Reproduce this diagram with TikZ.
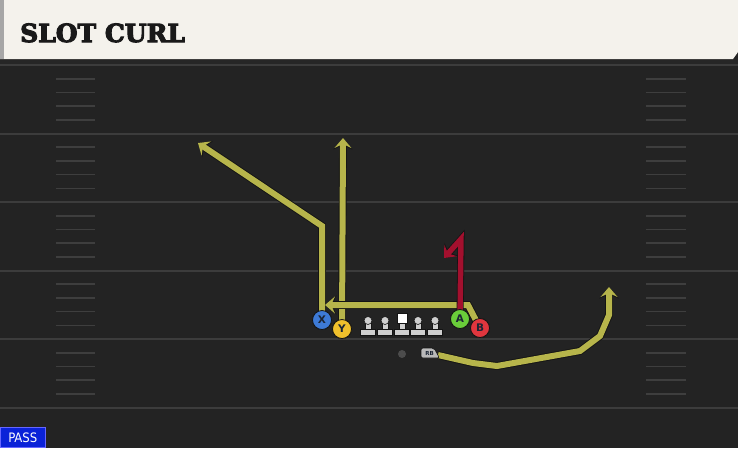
\documentclass[tikz,border=0pt]{standalone}
\usepackage{fontspec}
\setmainfont{DejaVu Sans}
\newfontfamily\titlefont[BoldFeatures={FakeBold=4}]{DejaVu Serif}
\newfontfamily\passfont{DejaVu Sans Condensed}
\usetikzlibrary{arrows.meta}
\definecolor{bgc}{HTML}{232323}
\definecolor{yardc}{HTML}{3C3C3C}
\definecolor{hashc}{HTML}{3E3E3E}
\definecolor{headc}{HTML}{F4F2EC}
\definecolor{routec}{HTML}{B7B54B}
\definecolor{redroute}{HTML}{A3102E}
\definecolor{outc}{HTML}{141414}
\definecolor{xblue}{HTML}{3D7AD6}
\definecolor{yyel}{HTML}{F0C02C}
\definecolor{agreen}{HTML}{6ACD3A}
\definecolor{bred}{HTML}{E0363E}
\definecolor{lettc}{HTML}{1B2535}
\definecolor{linec}{HTML}{CFCFCF}
\definecolor{passc}{HTML}{0A22D8}
\tikzset{
  yard/.style={draw=yardc, line width=2pt},
  hashm/.style={draw=hashc, line width=1.6pt},
  tip/.style={-{Stealth[length=10pt,width=17pt,inset=4pt]}},
  otip/.style={-{Stealth[length=11.5pt,width=19pt,inset=4.5pt]}},
  route/.style={draw=routec, line width=6pt, line join=miter, tip,
    preaction={draw=outc, line width=7.8pt, otip}},
  redr/.style={draw=redroute, line width=5.4pt, line join=miter, tip,
    preaction={draw=outc, line width=7pt, otip}},
  player/.style={circle, minimum size=19pt, inner sep=0pt, draw=outc, line width=0.8pt,
    font=\bfseries\fontsize{10.5}{10.5}\selectfont, text=lettc},
  lineman/.style={fill=linec, draw=outc, line width=0.6pt},
}
\begin{document}
\begin{tikzpicture}[x=1pt,y=-1pt]
\useasboundingbox (0,0) rectangle (738,448);
\fill[bgc] (0,0) rectangle (738,448);
% yard lines
\foreach \yy in {65,133.5,202,270.5,339,407.5}
  \draw[yard] (0,\yy) -- (738,\yy);
% hash marks
\foreach \base in {65,133.5,202,270.5,339}
  \foreach \k in {1,2,3,4} {
    \draw[hashm] (56,\base+13.7*\k) -- (95,\base+13.7*\k);
    \draw[hashm] (646,\base+13.7*\k) -- (686,\base+13.7*\k);
  }
% header
\fill[black!85] (0,58) rectangle (738,64);
\fill[headc] (0,0) -- (738,0) -- (738,52) -- (733,59) -- (0,59) -- cycle;
\fill[gray!70] (0,0) rectangle (4,59);
\node[anchor=base west, inner sep=0pt, font=\titlefont\bfseries\fontsize{25}{25}\selectfont, text=black!90]
  (title) at (20,42) {SLOT CURL};
% players
\node[player, fill=xblue] (X) at (322,320) {X};
\node[player, fill=yyel] (Y) at (342,329) {Y};
\node[player, fill=agreen] (A) at (460,319) {A};
\node[player, fill=bred] (B) at (480,328) {B};
\node[circle, fill=gray!60!black, minimum size=8pt, inner sep=0pt] (QB) at (402,354) {};
\node[inner sep=0pt, minimum width=15pt, minimum height=9pt] (RB) at (430,353) {};
% route coordinates
\coordinate (x1) at (322,226);
\coordinate (x2) at (198,143);
\coordinate (y1) at (343,138);
\coordinate (b1) at (468,305);
\coordinate (b2) at (325,305);
\coordinate (a1) at (461,239);
\coordinate (a2) at (444,258);
\coordinate (r0) at (438,355);
\coordinate (r1) at (473,363);
\coordinate (r2) at (497,366);
\coordinate (r3) at (580,351);
\coordinate (r4) at (600,336);
\coordinate (r5) at (609,315);
\coordinate (r6) at (609,287);
% routes
\draw[route] (X.center) -- (x1) -- (x2);
\draw[route] (Y.center) -- (y1);
\draw[route] (B.center) -- (b1) -- (b2);
\draw[redr] (A.center) -- (a1) -- (a2);
\draw[route] (r0) -- (r1) -- (r2) -- (r3) -- (r4) -- (r5) -- (r6);
% redraw players on top
\node[player, fill=xblue] at (X) {X};
\node[player, fill=yyel] at (Y) {Y};
\node[player, fill=agreen] at (A) {A};
\node[player, fill=bred] at (B) {B};
% RB tag
\draw[fill=linec!90!black, draw=outc, line width=0.6pt, rounded corners=2pt]
  (421,348) -- (434,348) -- (439.5,358) -- (421,358) -- cycle;
\node[font=\bfseries\fontsize{5.5}{5.5}\selectfont, text=lettc] at (429.5,353.2) {RB};
% linemen
\foreach \lx [count=\i] in {368,385,402,418,435} {
  \draw[lineman] (\lx-7.5,329) rectangle (\lx+7.5,335);
  \draw[lineman] (\lx-3,322) rectangle (\lx+3,329.5);
  \ifnum\i=3
    \draw[fill=white, draw=outc, line width=0.6pt] (\lx-5,313.5) rectangle (\lx+5,323.5);
  \else
    \draw[lineman] (\lx,320.5) circle (4);
  \fi
}
% PASS label
\node[fill=passc, draw=blue!60!white, line width=0.6pt, anchor=south west, minimum width=45pt,
  minimum height=20pt, inner sep=0pt, text=white, font=\passfont\fontsize{13}{13}\selectfont] (pass) at (0,448) {PASS};
\end{tikzpicture}
\end{document}
